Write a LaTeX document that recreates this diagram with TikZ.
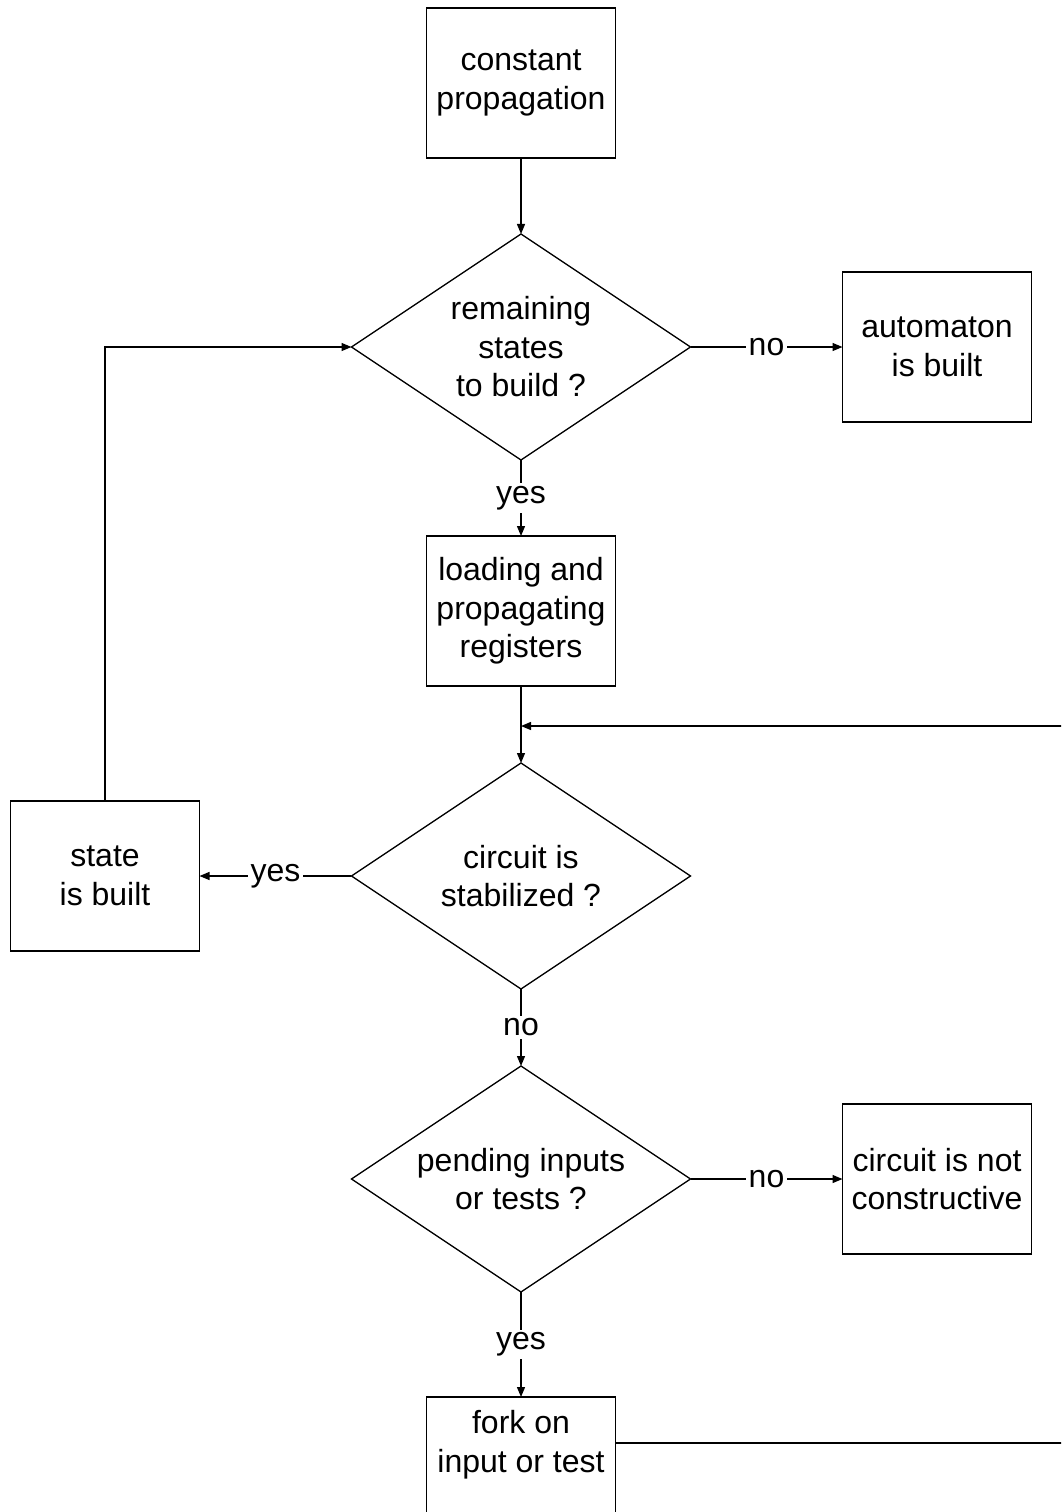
\documentclass[tikz,border=0pt]{standalone}
\usepackage{fontspec}
\setmainfont{Liberation Sans}
\usetikzlibrary{arrows.meta, shapes.geometric, positioning}
\tikzset{
  stepbox/.style={
    rectangle, draw=black, line width=1.3pt, fill=white,
    minimum width=189pt, minimum height=150pt, inner sep=0pt, outer sep=0pt,
    align=center, font=\fontsize{32}{38.5}\selectfont
  },
  forkbox/.style={
    stepbox, minimum height=0pt, inner ysep=13pt,
    text height=62pt, text depth=120pt
  },
  decision/.style={
    diamond, draw=black, line width=1.3pt, fill=white,
    aspect=1.5, inner sep=0pt, outer sep=0pt,
    minimum width=339pt, minimum height=226pt,
    align=center, font=\fontsize{32}{38.5}\selectfont
  },
  arrow/.style={-{Triangle[length=10pt,width=8pt]}, line width=1.3pt, draw=black},
  answer/.style={fill=white, inner sep=3pt, font=\fontsize{32}{38.5}\selectfont}
}
\begin{document}
\begin{tikzpicture}[x=1pt, y=-1pt]
  \useasboundingbox (0,0) rectangle (1061,1512);
  \clip (0,0) rectangle (1061,1512);

  \node[stepbox] (const) at (521,83) {constant\\propagation};
  \node[decision, below=76pt of const] (remain) {remaining\\states\\to build ?};
  \node[stepbox, right=152pt of remain] (auto) {automaton\\is built};
  \node[stepbox, below=76pt of remain] (load) {loading and\\propagating\\registers};
  \node[decision, below=77pt of load] (stab) {circuit is\\stabilized ?};
  \node[stepbox, left=152pt of stab] (state) {state\\is built};
  \node[decision, below=77pt of stab] (pend) {pending inputs\\or tests ?};
  \node[stepbox, right=152pt of pend] (notcons) {circuit is not\\constructive};
  \node[forkbox, below=105pt of pend] (fork) {fork on\\input or test};
  \coordinate (forkout) at ([yshift=-46pt]fork.north east);
  \coordinate (loopR) at (1090,726);

  \draw[arrow] (const) -- (remain);
  \draw[arrow] (remain) -- node[answer]{no} (auto);
  \draw[arrow] (remain) -- node[answer]{yes} (load);
  \draw[arrow] (load) -- (stab);
  \draw[arrow] (stab) -- node[answer]{yes} (state);
  \draw[arrow] (state.north) |- (remain.west);
  \draw[arrow] (stab) -- node[answer]{no} (pend);
  \draw[arrow] (pend) -- node[answer]{no} (notcons);
  \draw[arrow] (pend) -- node[answer]{yes} (fork);
  \draw[arrow] (forkout) -| (loopR) -- (load.south |- loopR);
\end{tikzpicture}
\end{document}
